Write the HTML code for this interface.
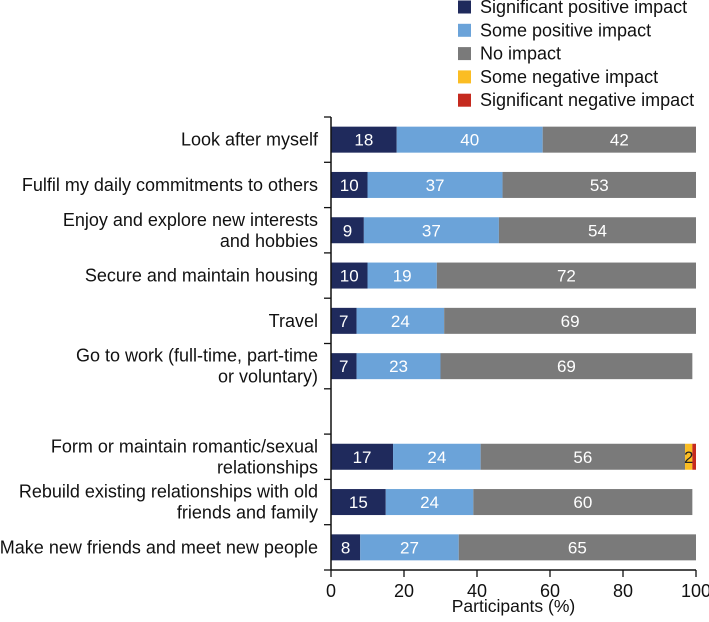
<!DOCTYPE html>
<html><head><meta charset="utf-8"><style>
body{margin:0;background:#fff;}
svg{display:block;font-family:"Liberation Sans",Arial,sans-serif;}
</style></head><body>
<svg id="c" width="709" height="622"></svg>
<script>
const categories=[["Look after myself"],["Fulfil my daily commitments to others"],["Enjoy and explore new interests","and hobbies"],["Secure and maintain housing"],["Travel"],["Go to work (full-time, part-time","or voluntary)"],null,["Form or maintain romantic/sexual","relationships"],["Rebuild existing relationships with old","friends and family"],["Make new friends and meet new people"]];
const sigPos=[18,10,9,10,7,7,null,17,15,8];
const somePos=[40,37,37,19,24,23,null,24,24,27];
const noImp=[42,53,54,72,69,69,null,56,60,65];
const someNeg=[0,0,0,0,0,0,null,2,0,0];
const sigNeg=[0,0,0,0,0,0,null,1,0,0];
const seriesNames=["Significant positive impact","Some positive impact","No impact","Some negative impact","Significant negative impact"];
const colors=["#1f2a5c","#6ba3d9","#7a7a7a","#fbbd23","#c52a1f"];
const xTicks=[0,20,40,60,80,100];
const NS="http://www.w3.org/2000/svg";
const svg=document.getElementById('c');
const x0=331,x1=696,yTop=117,yBot=570,slotH=(yBot-yTop)/categories.length,barH=26;
const xs=v=>x0+(x1-x0)*Math.min(v,100)/100;
const yc=i=>yTop+slotH*(i+0.5);
function mk(t,a){const e=document.createElementNS(NS,t);for(const k in a)e.setAttribute(k,a[k]);svg.appendChild(e);return e;}
const series=[sigPos,somePos,noImp,someNeg,sigNeg];
categories.forEach((c,i)=>{
 if(!c)return;
 let acc=0;
 series.forEach((s,j)=>{
  const v=s[i];if(!v)return;
  const r=mk('rect',{x:xs(acc),y:yc(i)-barH/2,width:Math.max(0,xs(acc+v)-xs(acc)),height:barH,fill:colors[j]});
  
  
  if(j<4){
  const t=mk('text',{x:(xs(acc)+xs(acc+v))/2,y:yc(i)+6,'text-anchor':'middle','font-size':17,fill:j>=3?'#222':'#fff'});
  t.textContent=v;
  
  
  }
  acc+=v;
 });
 const lt=mk('text',{x:318,'text-anchor':'end','font-size':18,fill:'#111'});
 
 
 const n=c.length;
 c.forEach((line,k)=>{const ts=document.createElementNS(NS,'tspan');ts.setAttribute('x',318);ts.setAttribute('y',yc(i)+6+(k-(n-1)/2)*21);ts.textContent=line;lt.appendChild(ts);});
});
const ya=mk('line',{x1:x0,y1:yTop,x2:x0,y2:yBot,stroke:'#111','stroke-width':1.5});

for(let k=0;k<=categories.length;k++){const t=mk('line',{x1:x0-7,x2:x0,y1:yTop+slotH*k,y2:yTop+slotH*k,stroke:'#111','stroke-width':1.3});}
const xa=mk('line',{x1:x0,y1:yBot,x2:x1,y2:yBot,stroke:'#111','stroke-width':1.5});

xTicks.forEach(v=>{
 const t=mk('line',{x1:xs(v),x2:xs(v),y1:yBot,y2:yBot+7,stroke:'#111','stroke-width':1.3});
 
 const l=mk('text',{x:xs(v),y:yBot+27,'text-anchor':'middle','font-size':18,fill:'#111'});
 l.textContent=v;
 
});
const xt=mk('text',{x:(x0+x1)/2,y:612,'text-anchor':'middle','font-size':17.5,fill:'#111'});
xt.textContent='Participants (%)';

seriesNames.forEach((nm,j)=>{
 const y=7+j*23.3;
 const g=mk('g',{});
 
 const r=document.createElementNS(NS,'rect');r.setAttribute('x',458);r.setAttribute('y',y-6.5);r.setAttribute('width',13);r.setAttribute('height',13);r.setAttribute('fill',colors[j]);g.appendChild(r);
 const t=document.createElementNS(NS,'text');t.setAttribute('x',480);t.setAttribute('y',y+6);t.setAttribute('font-size',18);t.setAttribute('fill','#111');t.textContent=nm;g.appendChild(t);
});
</script>
</body></html>
